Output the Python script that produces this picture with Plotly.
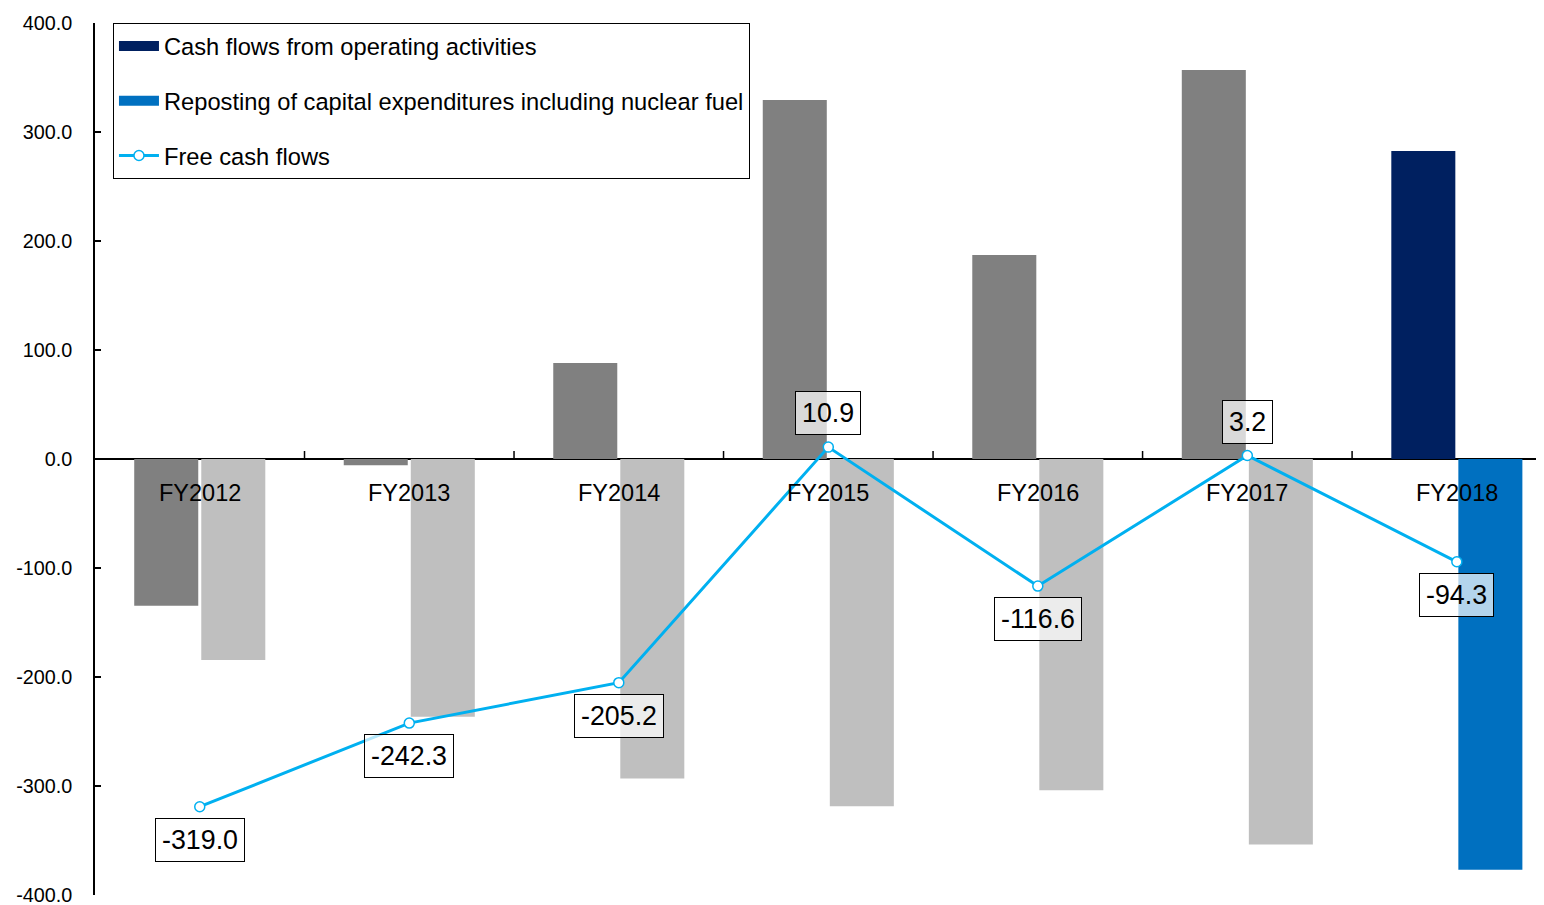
import plotly.graph_objects as go

categories = ["FY2012", "FY2013", "FY2014", "FY2015", "FY2016", "FY2017", "FY2018"]
operating = [-134.7, -5.8, 88.0, 329.4, 187.2, 356.8, 282.6]
capex = [-184.3, -236.5, -293.2, -318.5, -303.8, -353.6, -376.9]
free_cf = [-319.0, -242.3, -205.2, 10.9, -116.6, 3.2, -94.3]
y_ticks = [-400, -300, -200, -100, 0, 100, 200, 300, 400]

FONT = "Liberation Sans, Arial, sans-serif"
x_idx = list(range(len(categories)))

NAVY, BLUE, DGRAY, LGRAY, CYAN = "#002060", "#0070C0", "#808080", "#BFBFBF", "#00B0F0"

fig = go.Figure()

op_colors = [DGRAY] * (len(categories) - 1) + [NAVY]
inv_colors = [LGRAY] * (len(categories) - 1) + [BLUE]
fig.add_trace(go.Bar(x=x_idx, y=operating, marker_color=op_colors, marker_line_width=0,
                     showlegend=False, hoverinfo="skip"))
fig.add_trace(go.Bar(x=x_idx, y=capex, marker_color=inv_colors, marker_line_width=0,
                     showlegend=False, hoverinfo="skip"))

# legend entries
fig.add_trace(go.Scatter(x=[None], y=[None], mode="lines", line=dict(color=NAVY, width=16),
                         name="Cash flows from operating activities",
                         legendgroup="a", legendrank=1))
fig.add_trace(go.Scatter(x=[None], y=[None], mode="lines", line=dict(color=BLUE, width=16),
                         name="Reposting of capital expenditures including nuclear fuel",
                         legendgroup="b", legendrank=2))
fig.add_trace(go.Scatter(x=x_idx, y=free_cf, mode="lines+markers",
                         name="Free cash flows", legendgroup="c", legendrank=3,
                         line=dict(color=CYAN, width=3),
                         marker=dict(symbol="circle", size=10, color="white",
                                     line=dict(color=CYAN, width=1.5))))

annotations = []
for i, (c, v) in enumerate(zip(categories, free_cf)):
    above = v > 0
    annotations.append(dict(
        x=i, y=v, xref="x", yref="y", text=f"{v:.1f}", showarrow=False,
        yanchor="bottom" if above else "top", yshift=12 if above else -11,
        font=dict(family=FONT, size=26.8, color="black"),
        bgcolor="rgba(255,255,255,0.7)", bordercolor="black", borderwidth=1,
        borderpad=6))
    annotations.append(dict(
        x=i, y=0, xref="x", yref="y", text=c, showarrow=False,
        yanchor="top", yshift=-19,
        font=dict(family=FONT, size=23.5, color="black")))

shapes = []
for i in x_idx[:-1]:
    shapes.append(dict(type="line", xref="x", yref="y", x0=i + 0.5, x1=i + 0.5,
                       ysizemode="pixel", yanchor=0, y0=0, y1=8,
                       line=dict(color="black", width=1.5)))

fig.update_layout(
    width=1544, height=905,
    margin=dict(l=87, r=8, t=15, b=18),
    plot_bgcolor="white", paper_bgcolor="white",
    barmode="group", bargap=0.36, bargroupgap=0.045,
    font=dict(family=FONT, color="black"),
    annotations=annotations, shapes=shapes,
    legend=dict(x=0.0124, y=1.0, xanchor="left", yanchor="top",
                bordercolor="black", borderwidth=1, bgcolor="white",
                font=dict(family=FONT, size=23.7, color="black"),
                tracegroupgap=21, traceorder="grouped", itemwidth=40),
    showlegend=True,
)
fig.update_xaxes(range=[-0.5, 6.416], showticklabels=False, automargin=False,
                 showgrid=False, zeroline=False, showline=False, ticks="")
fig.update_yaxes(range=[-400, 400], tickvals=y_ticks, automargin=False,
                 ticktext=[f"{t:.1f}" for t in y_ticks],
                 showgrid=False, showline=True, linecolor="black", linewidth=1.5,
                 ticks="inside", ticklen=6, tickcolor="black", tickwidth=1.5,
                 ticklabelstandoff=17,
                 tickfont=dict(family=FONT, size=19.8, color="black"),
                 zeroline=True, zerolinecolor="black", zerolinewidth=2)

fig.write_html("out.html")
